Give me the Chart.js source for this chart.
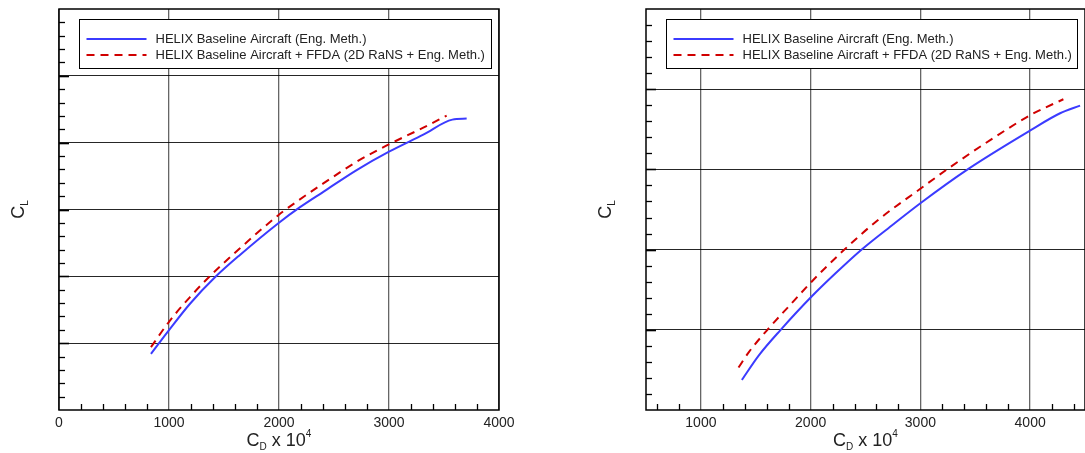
<!DOCTYPE html>
<html>
<head>
<meta charset="utf-8">
<script src="https://cdn.jsdelivr.net/npm/chart.js@4"></script>
<style>
  html, body { margin: 0; padding: 0; background: #fff; overflow: hidden; width: 1085px; height: 453px; }
  .panel { position: absolute; top: 0; height: 453px; }
</style>
</head>
<body>
<div class="panel" style="left:0;width:540px"><canvas id="polarLeft" width="540" height="453"></canvas></div>
<div class="panel" style="left:545px;width:560px"><canvas id="polarRight" width="560" height="453"></canvas></div>
<script>
// drag polars CL vs CD*1e4
const seriesLabels = [
    'HELIX Baseline Aircraft (Eng. Meth.)',
    'HELIX Baseline Aircraft + FFDA (2D RaNS + Eng. Meth.)'
];

const leftXTicks = [0, 1000, 2000, 3000, 4000];
const rightXTicks = [1000, 2000, 3000, 4000];
const leftYGrid = [0.2, 0.4, 0.6, 0.8, 1.0];
const rightYGrid = [0.4, 0.6, 0.8, 1.0];

// left polar
const leftBaseCD = [836, 1000, 1191, 1418, 1645, 1994, 2191, 2403, 2706, 3000, 3312, 3576, 3706];
const leftBaseCL = [0.168, 0.239, 0.318, 0.397, 0.464, 0.559, 0.607, 0.653, 0.718, 0.773, 0.824, 0.869, 0.872];
const leftFfdaCD = [836, 1000, 1191, 1373, 1645, 1994, 2176, 2403, 2706, 3000, 3312, 3524];
const leftFfdaCL = [0.188, 0.264, 0.338, 0.401, 0.484, 0.583, 0.627, 0.678, 0.743, 0.795, 0.845, 0.881];

// right polar
const rightBaseCD = [1373, 1530, 1727, 2009, 2227, 2455, 2757, 3006, 3424, 4006, 4273, 4455];
const rightBaseCL = [0.275, 0.337, 0.400, 0.483, 0.541, 0.598, 0.664, 0.717, 0.799, 0.898, 0.940, 0.959];
const rightFfdaCD = [1343, 1439, 1606, 1803, 2009, 2288, 2606, 3006, 3279, 3636, 4006, 4303];
const rightFfdaCL = [0.306, 0.345, 0.400, 0.459, 0.520, 0.595, 0.672, 0.753, 0.807, 0.873, 0.936, 0.975];

Chart.defaults.font.family = "'Liberation Sans', Arial, sans-serif";
Chart.defaults.color = '#222';

const FONT = "'Liberation Sans', Arial, sans-serif";

function pts(xs, ys) {
    return xs.map((x, i) => ({ x: x, y: ys[i] }));
}

// inner ticks, frame, legend and axis titles
const framePlugin = {
    id: 'frame',
    beforeDatasetsDraw(chart) {
        const ctx = chart.ctx;
        const a = chart.chartArea;
        const xs = chart.scales.x, ys = chart.scales.y;
        ctx.save();
        ctx.strokeStyle = '#000';
        // bottom minor ticks
        ctx.lineWidth = 1.3;
        const nx = Math.round((xs.max - xs.min) / 200);
        for (let i = 0; i <= nx; i++) {
            const v = Math.ceil(xs.min / 200) * 200 + i * 200;
            if (v > xs.max || v % 1000 === 0) continue;
            const px = Math.round(xs.getPixelForValue(v)) + 0.5;
            ctx.beginPath();
            ctx.moveTo(px, a.bottom);
            ctx.lineTo(px, a.bottom - 6);
            ctx.stroke();
        }
        // left minor + major ticks
        const ny = Math.round((ys.max - ys.min) / 0.04);
        for (let j = 1; j < ny; j++) {
            const v = ys.min + j * 0.04;
            const py = Math.round(ys.getPixelForValue(v)) + 0.5;
            const major = j % 5 === 0;
            ctx.lineWidth = major ? 1.6 : 1.3;
            ctx.beginPath();
            ctx.moveTo(a.left, py);
            ctx.lineTo(a.left + (major ? 10 : 6), py);
            ctx.stroke();
        }
        ctx.lineWidth = 1.5;
        ctx.strokeRect(a.left, a.top, a.right - a.left, a.bottom - a.top);
        ctx.restore();
    },
    afterDraw(chart) {
        const ctx = chart.ctx;
        const a = chart.chartArea;
        ctx.save();

        // legend
        const bx = Math.round(a.left + 20) + 0.5, by = 19.5;
        const bw = Math.round(a.right - 8 - bx), bh = 49;
        ctx.fillStyle = '#fff';
        ctx.fillRect(bx, by, bw, bh);
        ctx.strokeStyle = '#000';
        ctx.lineWidth = 1;
        ctx.strokeRect(bx, by, bw, bh);
        ctx.font = '13px ' + FONT;
        ctx.textBaseline = 'middle';
        chart.data.datasets.forEach((ds, i) => {
            const y = by + 19.5 + i * 16;
            ctx.save();
            ctx.strokeStyle = ds.borderColor;
            ctx.lineWidth = ds.borderWidth;
            ctx.setLineDash(ds.borderDash || []);
            ctx.beginPath();
            ctx.moveTo(bx + 7, y);
            ctx.lineTo(bx + 67, y);
            ctx.stroke();
            ctx.restore();
            ctx.fillStyle = '#222';
            ctx.fillText(ds.label, bx + 76, y + 0.5);
        });

        // x title: C_D x 10^4
        ctx.fillStyle = '#222';
        ctx.textBaseline = 'alphabetic';
        const parts = [
            { t: 'C', size: 18, dy: 0 },
            { t: 'D', size: 10, dy: 4 },
            { t: ' x 10', size: 18, dy: 0 },
            { t: '4', size: 10, dy: -9 }
        ];
        let total = 0;
        parts.forEach(p => { ctx.font = p.size + 'px ' + FONT; p.w = ctx.measureText(p.t).width; total += p.w; });
        let x = (a.left + a.right) / 2 - total / 2;
        const base = 446;
        parts.forEach(p => {
            ctx.font = p.size + 'px ' + FONT;
            ctx.fillText(p.t, x, base + p.dy);
            x += p.w;
        });

        // y title: C_L
        ctx.translate(a.left - 35, (a.top + a.bottom) / 2);
        ctx.rotate(-Math.PI / 2);
        ctx.font = '18px ' + FONT;
        const wc = ctx.measureText('C').width;
        ctx.font = '10px ' + FONT;
        const wl = ctx.measureText('L').width;
        const x0 = -(wc + wl) / 2;
        ctx.font = '18px ' + FONT;
        ctx.fillText('C', x0, 0);
        ctx.font = '10px ' + FONT;
        ctx.fillText('L', x0 + wc, 4);
        ctx.restore();
    }
};

function makePanel(id, cfg) {
    return new Chart(document.getElementById(id), {
        type: 'line',
        data: {
            datasets: [{
                label: seriesLabels[0],
                data: pts(cfg.baseCD, cfg.baseCL),
                borderColor: '#3b3bff',
                borderWidth: 2,
                pointRadius: 0,
                cubicInterpolationMode: 'monotone',
                fill: false
            }, {
                label: seriesLabels[1],
                data: pts(cfg.ffdaCD, cfg.ffdaCL),
                borderColor: '#d00000',
                borderWidth: 2,
                borderDash: [8, 6],
                pointRadius: 0,
                cubicInterpolationMode: 'monotone',
                fill: false
            }]
        },
        options: {
            responsive: false,
            devicePixelRatio: 1,
            animation: false,
            events: [],
            layout: { padding: { left: cfg.padLeft, right: cfg.padRight, top: 9, bottom: 0 } },
            plugins: { legend: { display: false }, tooltip: { enabled: false } },
            scales: {
                x: {
                    type: 'linear',
                    min: cfg.xMin,
                    max: cfg.xMax,
                    afterBuildTicks: s => { s.ticks = cfg.xTicks.map(v => ({ value: v })); },
                    afterFit: s => { s.height = 43; },
                    ticks: {
                        autoSkip: false,
                        maxRotation: 0,
                        padding: 5,
                        font: { size: 14 },
                        color: '#222',
                        callback: v => String(v)
                    },
                    grid: { color: 'rgba(0,0,0,0.6)', lineWidth: 1.3, drawTicks: false },
                    border: { display: false }
                },
                y: {
                    type: 'linear',
                    min: cfg.yMin,
                    max: cfg.yMax,
                    afterBuildTicks: s => { s.ticks = cfg.yGrid.map(v => ({ value: v })); },
                    afterFit: s => { s.width = 0; },
                    ticks: { display: false },
                    grid: { color: 'rgba(0,0,0,0.85)', lineWidth: 1, drawTicks: false },
                    border: { display: false }
                }
            }
        },
        plugins: [framePlugin]
    });
}

makePanel('polarLeft', {
    baseCD: leftBaseCD, baseCL: leftBaseCL,
    ffdaCD: leftFfdaCD, ffdaCL: leftFfdaCL,
    xMin: 0, xMax: 4000, xTicks: leftXTicks,
    yMin: 0, yMax: 1.2, yGrid: leftYGrid,
    padLeft: 59, padRight: 41
});

makePanel('polarRight', {
    baseCD: rightBaseCD, baseCL: rightBaseCL,
    ffdaCD: rightFfdaCD, ffdaCL: rightFfdaCL,
    xMin: 500, xMax: 4500, xTicks: rightXTicks,
    yMin: 0.2, yMax: 1.2, yGrid: rightYGrid,
    padLeft: 101, padRight: 20
});
</script>
</body>
</html>
